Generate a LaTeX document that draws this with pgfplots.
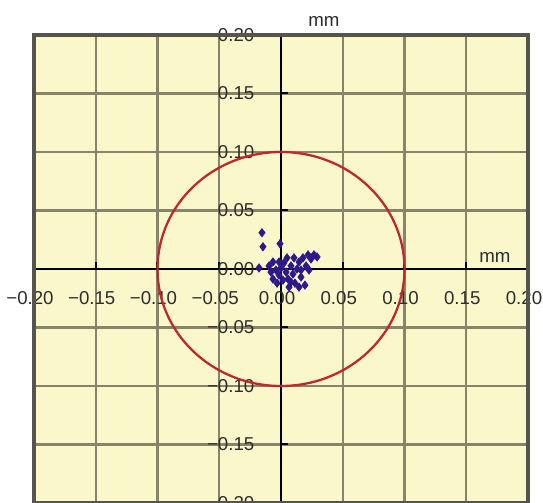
\documentclass[border=0pt]{standalone}
\usepackage{pgfplots}
\pgfplotsset{compat=1.18}
\usepackage{fontspec}
\setmainfont{Liberation Sans}
\definecolor{bgyellow}{RGB}{250,247,203}
\definecolor{gridcol}{RGB}{135,133,105}
\definecolor{framecol}{RGB}{85,85,78}
\definecolor{circred}{RGB}{192,38,45}
\definecolor{ptblue}{RGB}{45,25,140}
\definecolor{labcol}{RGB}{45,45,45}
\begin{document}
\begin{tikzpicture}
\useasboundingbox (-25.5pt,0pt) rectangle (381.75pt,377.25pt);
\begin{axis}[
  scale only axis,
  width=370.5pt, height=351pt,
  xmin=-0.2, xmax=0.2, ymin=-0.2, ymax=0.2,
  axis lines=middle,
  axis line style={black, line width=2.2pt, -},
  axis background/.style={fill=bgyellow},
  grid=major,
  grid style={gridcol, line width=1.6pt},
  xtick={-0.2,-0.15,-0.1,-0.05,0,0.05,0.1,0.15,0.2},
  ytick={-0.2,-0.15,-0.1,-0.05,0,0.05,0.1,0.15,0.2},
  xticklabels={−0.20,−0.15,−0.10,−0.05,0.00,0.05,0.10,0.15,0.20},
  yticklabels={−0.20,−0.15,−0.10,−0.05,0.00,0.05,0.10,0.15,0.20},
  hide obscured x ticks=false,
  hide obscured y ticks=false,
  major tick length=5pt,
  tick style={black, line width=1.5pt},
  xtick align=inside, ytick align=inside,
  xticklabel style={font=\fontsize{14}{15}\selectfont, text=labcol, anchor=north, yshift=-13pt, xshift=-3pt},
  yticklabel style={font=\fontsize{14}{15}\selectfont, text=labcol, anchor=east, xshift=-16.5pt},
  xlabel={mm}, ylabel={mm},
  xlabel style={font=\fontsize{14}{15}\selectfont, text=labcol, at={(axis description cs:0.933,0.524)}, anchor=center},
  ylabel style={font=\fontsize{14}{15}\selectfont, text=labcol, at={(axis description cs:0.587,1.028)}, anchor=center, rotate=0},
  clip=false,
]
\draw[framecol, line width=2.4pt] (rel axis cs:0,0) rectangle (rel axis cs:1,1);
\draw[circred, line width=1.7pt] (axis cs:0,0) ellipse [x radius=92.625pt, y radius=87.75pt];
\addplot[only marks, mark=diamond*, mark size=3.2pt, color=ptblue, mark options={fill=ptblue}] coordinates {
(-0.0154,0.0310) (-0.0146,0.0190) (-0.0008,0.0216) (-0.0178,0.0009)
(-0.0097,0.0026) (-0.0065,0.0060) (-0.0041,-0.0009) (-0.0016,-0.0052)
(0.0000,0.0009) (0.0024,0.0052) (0.0041,-0.0026) (0.0057,-0.0086)
(0.0081,0.0026) (0.0097,-0.0043) (0.0113,-0.0121) (0.0130,0.0000)
(0.0146,0.0060) (0.0162,-0.0069) (0.0178,0.0095) (0.0203,0.0026)
(0.0219,0.0121) (0.0243,0.0086) (0.0267,0.0121) (0.0292,0.0103)
(0.0194,-0.0138) (0.0146,-0.0155) (0.0065,-0.0155) (-0.0032,-0.0121)
(-0.0065,-0.0086) (-0.0081,-0.0026) (0.0016,-0.0095) (0.0105,0.0095)
(0.0049,0.0095) (0.0162,-0.0009) (0.0227,-0.0009) (-0.0016,0.0060)
(0.0081,-0.0112)
};
\end{axis}
\end{tikzpicture}
\end{document}
